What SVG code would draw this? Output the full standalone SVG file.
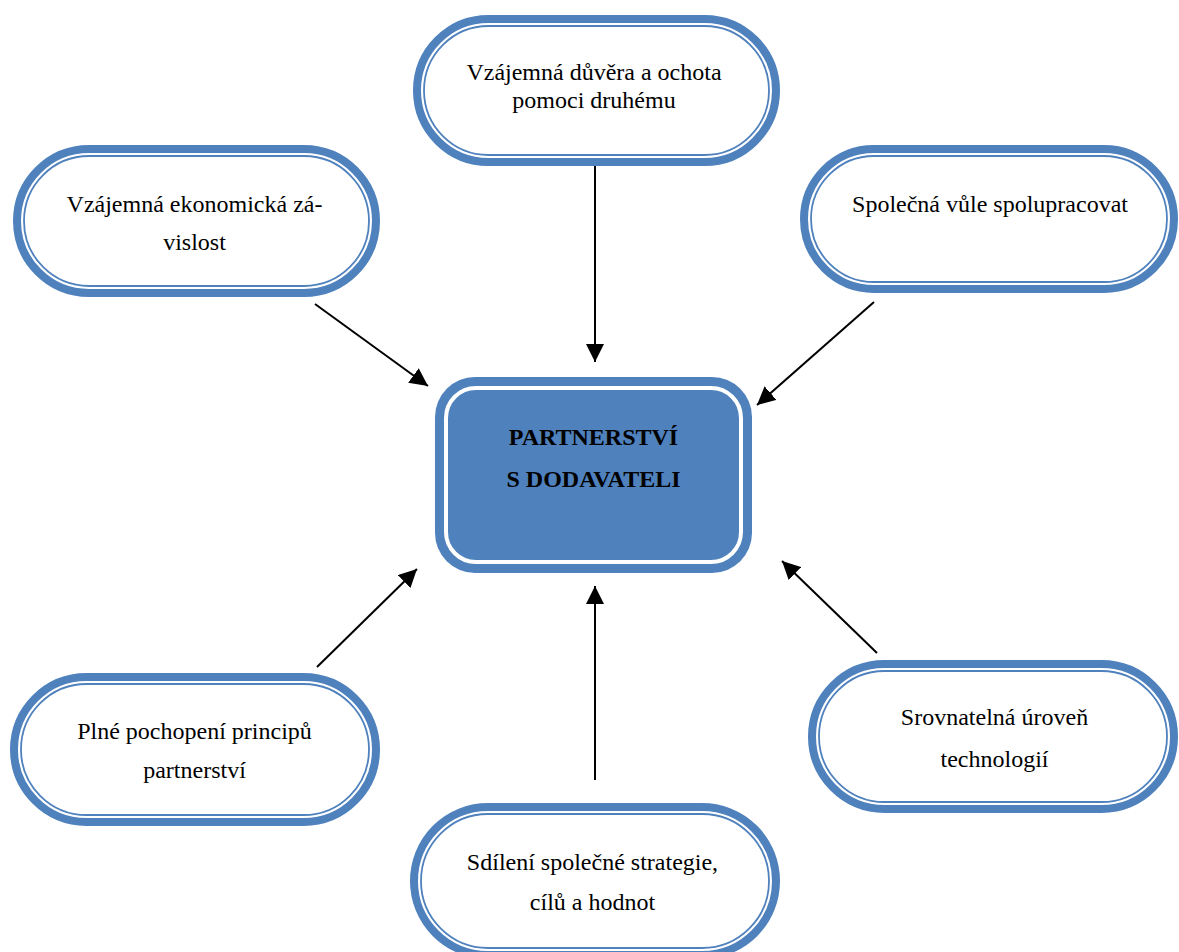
<svg xmlns="http://www.w3.org/2000/svg" width="1179" height="952" viewBox="0 0 1179 952">
  <style>
    .outer { fill: #ffffff; stroke: #4f81bd; stroke-width: 8; }
    .inner { fill: none; stroke: #4f81bd; stroke-width: 1.8; }
    .lbl { font-family: "Liberation Serif", "Times New Roman", serif; font-size: 24px; fill: #000; text-anchor: middle; }
    .ctr { font-family: "Liberation Serif", "Times New Roman", serif; font-size: 24px; font-weight: bold; fill: #000; text-anchor: middle; }
    .conn { stroke: #000; stroke-width: 2; fill: none; marker-end: url(#ah); }
  </style>
  <defs>
    <marker id="ah" markerUnits="userSpaceOnUse" markerWidth="18" markerHeight="18" viewBox="0 0 16 16" refX="16" refY="8" orient="auto">
      <path d="M0,0 L16,8 L0,16 Z" fill="#000"/>
    </marker>
  </defs>
  <rect width="1179" height="952" fill="#ffffff"/>

  <g id="connectors">
    <line class="conn" x1="595" y1="166" x2="595" y2="362"/>
    <line class="conn" x1="315" y1="304" x2="428" y2="386"/>
    <line class="conn" x1="874" y1="302" x2="757" y2="405"/>
    <line class="conn" x1="317" y1="667" x2="417" y2="569"/>
    <line class="conn" x1="595" y1="780" x2="595" y2="586"/>
    <line class="conn" x1="877" y1="653" x2="782" y2="561"/>
  </g>

  <g id="center">
    <rect x="435" y="377" width="317" height="196" rx="40" fill="#4f81bd"/>
    <rect x="446" y="388" width="295" height="174" rx="30" fill="none" stroke="#ffffff" stroke-width="4"/>
    <text class="ctr" x="593.5" y="445">PARTNERSTVÍ</text>
    <text class="ctr" x="593.5" y="487">S DODAVATELI</text>
  </g>

  <g id="node-top">
    <rect class="outer" x="417" y="19" width="359" height="143" rx="71.5"/>
    <rect class="inner" x="424" y="26" width="345" height="129" rx="64.5"/>
    <text class="lbl" x="594" y="80">Vzájemná důvěra a ochota</text>
    <text class="lbl" x="594" y="108">pomoci druhému</text>
  </g>

  <g id="node-left">
    <rect class="outer" x="17" y="149" width="359" height="144" rx="72"/>
    <rect class="inner" x="24" y="156" width="345" height="130" rx="65"/>
    <text class="lbl" x="194.5" y="212">Vzájemná ekonomická zá-</text>
    <text class="lbl" x="194.5" y="250">vislost</text>
  </g>

  <g id="node-right">
    <rect class="outer" x="804" y="149" width="370" height="140" rx="70"/>
    <rect class="inner" x="811" y="156" width="356" height="126" rx="63"/>
    <text class="lbl" x="990" y="212">Společná vůle spolupracovat</text>
  </g>

  <g id="node-bottom-left">
    <rect class="outer" x="14" y="677" width="362" height="145" rx="72.5"/>
    <rect class="inner" x="21" y="684" width="348" height="131" rx="65.5"/>
    <text class="lbl" x="194.5" y="739">Plné pochopení principů</text>
    <text class="lbl" x="194.5" y="778">partnerství</text>
  </g>

  <g id="node-bottom">
    <rect class="outer" x="414" y="807" width="362" height="148" rx="74"/>
    <rect class="inner" x="421" y="814" width="348" height="134" rx="67"/>
    <text class="lbl" x="592.5" y="870">Sdílení společné strategie,</text>
    <text class="lbl" x="592.5" y="910">cílů a hodnot</text>
  </g>

  <g id="node-bottom-right">
    <rect class="outer" x="812" y="664" width="362" height="145" rx="72.5"/>
    <rect class="inner" x="819" y="671" width="348" height="131" rx="65.5"/>
    <text class="lbl" x="994.5" y="725">Srovnatelná úroveň</text>
    <text class="lbl" x="994.5" y="767">technologií</text>
  </g>
</svg>
